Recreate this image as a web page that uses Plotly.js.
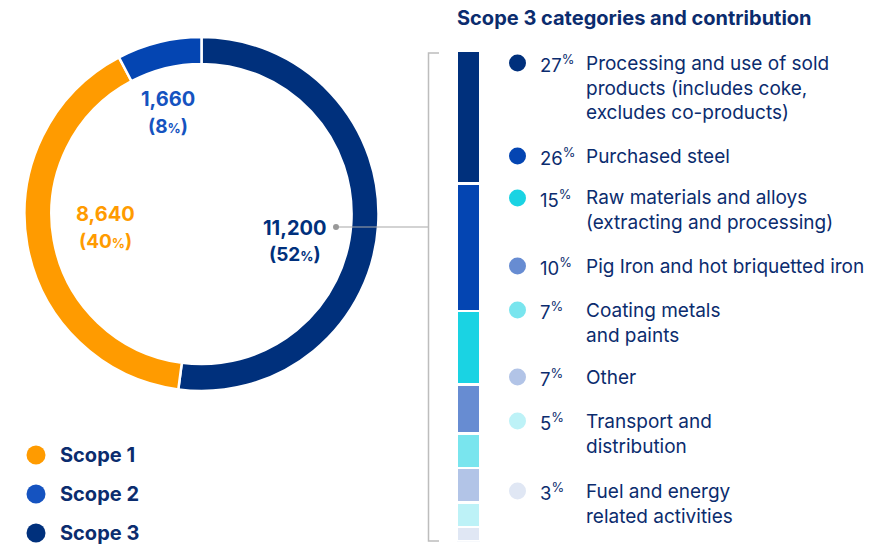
<!DOCTYPE html>
<html>
<head>
<meta charset="utf-8">
<script src="https://cdn.plot.ly/plotly-3.0.1.min.js"></script>
<style>html,body{margin:0;padding:0;background:#fff}#chart{width:892px;height:546px}</style>
</head>
<body>
<div id="chart"></div>
<script>
// ---- data ----
const scopeLabels = ["Scope 3", "Scope 1", "Scope 2"];
const scopeValues = [11200, 8640, 1660];
const scopePct = [52, 40, 8];
const legendScopes = ["Scope 1", "Scope 2", "Scope 3"];

const catLabels = [
  "Processing and use of sold<br>products (includes coke,<br>excludes co-products)",
  "Purchased steel",
  "Raw materials and alloys<br>(extracting and processing)",
  "Pig Iron and hot briquetted iron",
  "Coating metals<br>and paints",
  "Other",
  "Transport and<br>distribution",
  "Fuel and energy<br>related activities"
];
const catPct = [27, 26, 15, 10, 7, 7, 5, 3];

// ---- styling ----
const W = 892, H = 546;
const px = x => x / W;
const py = y => 1 - y / H;
const scopeColors = {"Scope 1": "#FF9B00", "Scope 2": "#0445B2", "Scope 3": "#00307C"};
const legendColors = {"Scope 1": "#FF9B00", "Scope 2": "#1553C0", "Scope 3": "#00307C"};
const catColors = ["#00307C", "#0445B2", "#1AD3E3", "#678CD2", "#79E5EE", "#B2C4E7", "#BDF2F7", "#E0E7F4"];
const navy = "#0B2C6E";
const FONT = "Inter, 'Noto Sans', sans-serif";

const traces = [];
traces.push({
  type: "pie",
  values: scopeValues,
  labels: scopeLabels,
  sort: false,
  direction: "clockwise",
  rotation: 0,
  hole: 0.848,
  textinfo: "none",
  hoverinfo: "none",
  showlegend: false,
  marker: {colors: scopeLabels.map(l => scopeColors[l]), line: {color: "#ffffff", width: 2.5}},
  domain: {x: [px(24.5), px(378.5)], y: [py(391), py(37)]}
});

catPct.forEach((v, i) => {
  traces.push({
    type: "bar",
    x: ["s3"],
    y: [v],
    xaxis: "x2",
    yaxis: "y2",
    marker: {color: catColors[i], line: {color: "#ffffff", width: 2.5}},
    hoverinfo: "none",
    showlegend: false
  });
});

const annotations = [];
const shapes = [];

// donut labels
const donutLabelPos = {
  "Scope 2": {x: 168, y1: 99, y2: 126, color: "#1553C0"},
  "Scope 1": {x: 105, y1: 214, y2: 241, color: "#FF9B00"},
  "Scope 3": {x: 295, y1: 228, y2: 254, color: "#00307C"}
};
scopeLabels.forEach((l, i) => {
  const p = donutLabelPos[l];
  annotations.push({
    xref: "paper", yref: "paper", x: px(p.x), y: py(p.y1), xanchor: "center", yanchor: "middle",
    text: scopeValues[i].toLocaleString("en-US"), showarrow: false,
    font: {family: FONT, size: 20, color: p.color, weight: 700}
  });
  annotations.push({
    xref: "paper", yref: "paper", x: px(p.x), y: py(p.y2), xanchor: "center", yanchor: "middle",
    text: "(" + scopePct[i] + "<span style='font-size:13px'>%</span>)", showarrow: false,
    font: {family: FONT, size: 19, color: p.color, weight: 700}
  });
});

// connector
shapes.push({type: "line", xref: "paper", yref: "paper", x0: px(336), x1: px(428), y0: py(227), y1: py(227), line: {color: "#A8A8A8", width: 1.2}});
shapes.push({type: "circle", xref: "paper", yref: "paper", x0: px(333), x1: px(339), y0: py(224), y1: py(230), fillcolor: "#999999", line: {width: 0}});
// bracket
shapes.push({type: "path", xref: "paper", yref: "paper",
  path: `M ${px(439)} ${py(53)} L ${px(428.5)} ${py(53)} L ${px(428.5)} ${py(541)} L ${px(439)} ${py(541)}`,
  line: {color: "#BDBDBD", width: 1.5}});

// title
annotations.push({xref: "paper", yref: "paper", x: px(455), y: py(18), xanchor: "left", yanchor: "middle",
  text: "Scope 3 categories and contribution", showarrow: false,
  font: {family: FONT, size: 20, color: navy, weight: 700}});

// category legend
const rowY = [63, 156, 198, 266, 310, 377, 421, 491];
const LINE = 25;
catPct.forEach((v, i) => {
  const y = rowY[i];
  const n = catLabels[i].split("<br>").length;
  shapes.push({type: "circle", xref: "paper", yref: "paper", x0: px(509), x1: px(526), y0: py(y - 8.5), y1: py(y + 8.5), fillcolor: catColors[i], line: {width: 0}});
  annotations.push({xref: "paper", yref: "paper", x: px(538), y: py(y), xanchor: "left", yanchor: "middle",
    text: v + "<sup>%</sup>", showarrow: false, font: {family: FONT, size: 18.5, color: navy}});
  annotations.push({xref: "paper", yref: "paper", x: px(584), y: py(y + (n - 1) * LINE / 2), xanchor: "left", yanchor: "middle",
    text: catLabels[i], showarrow: false, align: "left",
    font: {family: FONT, size: 19, color: navy}});
});

// scope legend
const legY = [455, 494, 533];
legendScopes.forEach((l, i) => {
  shapes.push({type: "circle", xref: "paper", yref: "paper", x0: px(26.5), x1: px(45.5), y0: py(legY[i] - 9.5), y1: py(legY[i] + 9.5), fillcolor: legendColors[l], line: {width: 0}});
  annotations.push({xref: "paper", yref: "paper", x: px(58), y: py(legY[i]), xanchor: "left", yanchor: "middle",
    text: l, showarrow: false, font: {family: FONT, size: 20, color: navy, weight: 700}});
});

const layout = {
  width: W, height: H,
  margin: {l: 0, r: 0, t: 0, b: 0, pad: 0},
  paper_bgcolor: "#ffffff", plot_bgcolor: "rgba(0,0,0,0)",
  barmode: "stack", bargap: 0,
  showlegend: false,
  xaxis: {visible: false},
  yaxis: {visible: false},
  xaxis2: {domain: [px(457), px(480)], anchor: "y2", visible: false, range: [-0.5, 0.5], fixedrange: true},
  yaxis2: {domain: [py(541.5), py(51)], anchor: "x2", visible: false, range: [100, 0], fixedrange: true},
  annotations: annotations,
  shapes: shapes
};

Plotly.newPlot("chart", traces, layout, {staticPlot: true, displayModeBar: false});
</script>
</body>
</html>
